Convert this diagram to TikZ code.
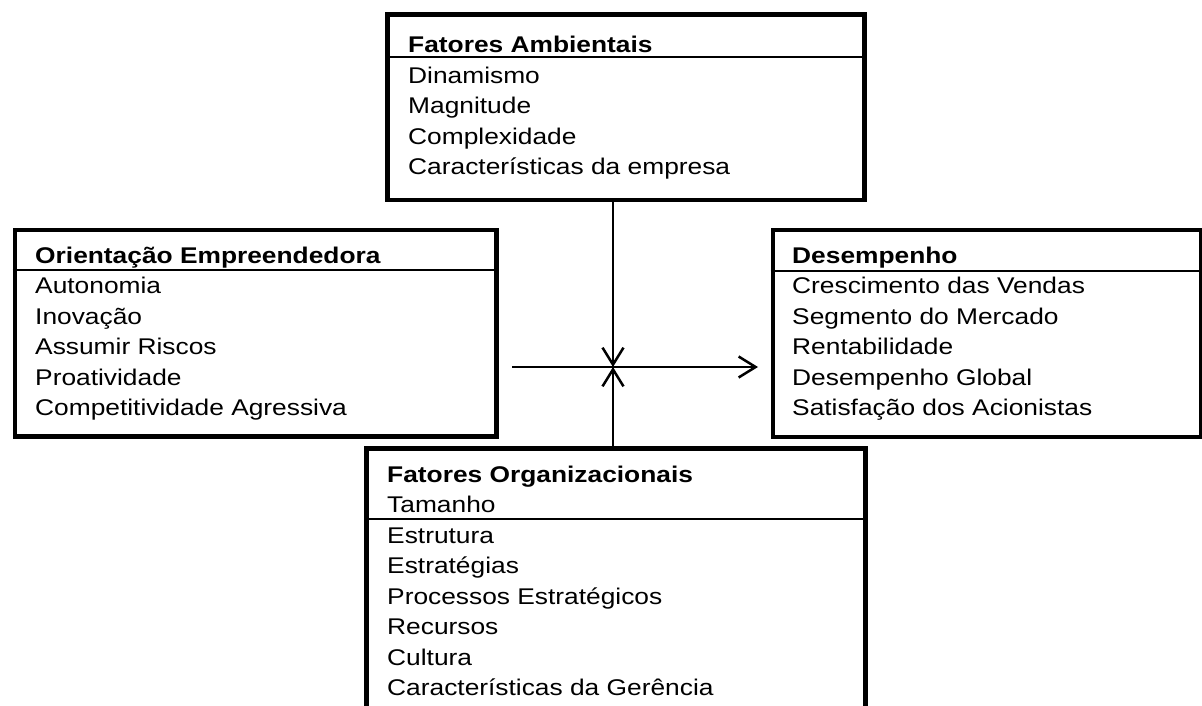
\documentclass[tikz,border=0pt]{standalone}
\usepackage{fontspec}
\setmainfont{Liberation Sans}[FakeStretch=1.16]
\usetikzlibrary{arrows.meta,calc}
\begin{document}
\begin{tikzpicture}[x=1pt,y=-1pt,
  box/.style={draw,line width=4.5pt,rectangle,inner sep=0pt,anchor=north west},
  sepline/.style={line width=1.5pt},
  txt/.style={anchor=base west,inner sep=0pt,font=\fontsize{22.7}{30.5}\selectfont},
  ttl/.style={anchor=base west,inner sep=0pt,font=\fontsize{22.7}{30.5}\selectfont\bfseries},
  conn/.style={line width=2.5pt,-{Straight Barb[length=17pt,width=21pt]}}]
\useasboundingbox (0,0) rectangle (1202,706);
\clip (0,0) rectangle (1202,706);

% boxes
\node[box,minimum width=477pt,minimum height=185pt] (fa) at (385,12.5) {};
\node[box,minimum width=481.5pt,minimum height=206.5pt] (oe) at (12.5,227.5) {};
\node[box,minimum width=428.5pt,minimum height=207pt] (de) at (770.5,227.5) {};
\node[box,minimum width=499pt,minimum height=280pt] (fo) at (364,446) {};

% separators
\draw[sepline] (fa.west |- 0,57) -- (fa.east |- 0,57);
\draw[sepline] (oe.west |- 0,270) -- (oe.east |- 0,270);
\draw[sepline] (de.west |- 0,271) -- (de.east |- 0,271);
\draw[sepline] (fo.west |- 0,519) -- (fo.east |- 0,519);

% Fatores Ambientais
\node[ttl] (fa-t) at (408,53) {Fatores Ambientais};
\foreach \t [count=\i from 0] in {Dinamismo,Magnitude,Complexidade,Características da empresa}
  \node[txt] (fa-\i) at ({408},{83.5+30.5*\i}) {\t};

% Orientacao Empreendedora
\node[ttl] (oe-t) at (35,263) {Orientação Empreendedora};
\foreach \t [count=\i from 0] in {Autonomia,Inovação,Assumir Riscos,Proatividade,Competitividade Agressiva}
  \node[txt] (oe-\i) at ({35},{293.5+30.5*\i}) {\t};

% Desempenho
\node[ttl] (de-t) at (792,263) {Desempenho};
\foreach \t [count=\i from 0] in {Crescimento das Vendas,Segmento do Mercado,Rentabilidade,Desempenho Global,Satisfação dos Acionistas}
  \node[txt] (de-\i) at ({792},{293.5+30.5*\i}) {\t};

% Fatores Organizacionais
\node[ttl] (fo-t) at (387,482) {Fatores Organizacionais};
\foreach \t [count=\i from 0] in {Tamanho,Estrutura,Estratégias,Processos Estratégicos,Recursos,Cultura,Características da Gerência}
  \node[txt] (fo-\i) at ({387},{512.5+30.5*\i}) {\t};

% connectors
\coordinate (j) at (613,367);
\coordinate (hs) at (512,367);
\draw[conn] (j |- fa.south) -- (j);
\draw[conn] (j |- fo.north) -- (j);
\draw[conn,shorten >=12.5pt] (hs) -- (de.west |- hs);
\end{tikzpicture}
\end{document}
